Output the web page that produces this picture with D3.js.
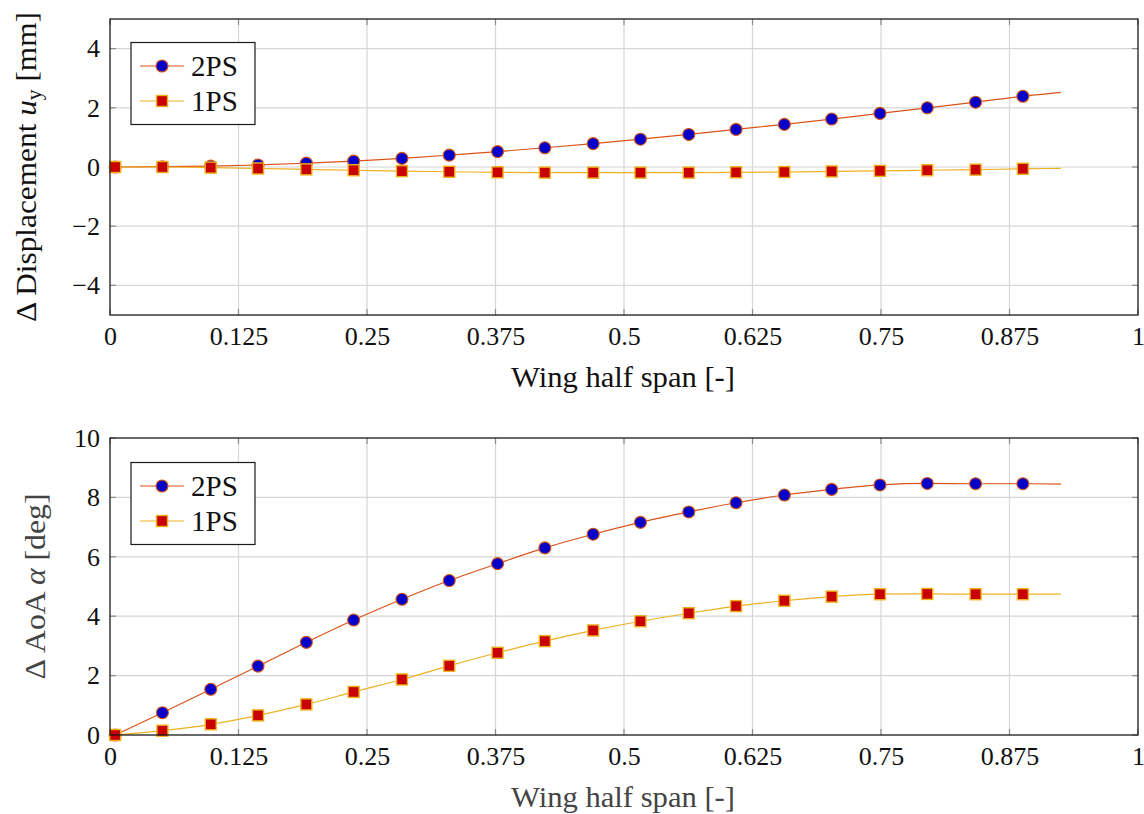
<!DOCTYPE html>
<html lang="en">
<head>
<meta charset="utf-8">
<title>Wing half span deltas</title>
<script src="https://cdnjs.cloudflare.com/ajax/libs/d3/7.8.5/d3.min.js"></script>
<style>
  body { margin: 0; background: #fff; }
  svg text { font-family: "Liberation Serif", "DejaVu Serif", serif; fill: #111; }
  .grid line { stroke: #d6d6d6; stroke-width: 1.2px; }
  .tickmark { stroke: #8c8c8c; stroke-width: 1.2px; }
  .frame { fill: none; stroke: #1a1a1a; stroke-width: 1.3px; }
  .tick text { font-size: 26px; }
  .label { font-size: 29px; }
  .legend text { font-size: 29px; }
</style>
</head>
<body>
<div id="chart"></div>
<script>
// spanwise stations (last one is the line end, no marker)
var span = [0.005, 0.051, 0.098, 0.144, 0.191, 0.237, 0.284, 0.330, 0.377, 0.423,
            0.470, 0.516, 0.563, 0.609, 0.656, 0.702, 0.749, 0.795, 0.842, 0.888, 0.925];

var dispTwo = [0, 0.01, 0.03, 0.07, 0.13, 0.20, 0.29, 0.40, 0.52, 0.65,
               0.79, 0.94, 1.10, 1.27, 1.44, 1.62, 1.81, 2.00, 2.19, 2.39, 2.52];
var dispOne = [0, 0, -0.02, -0.05, -0.08, -0.11, -0.14, -0.16, -0.18, -0.19,
               -0.19, -0.19, -0.19, -0.18, -0.17, -0.15, -0.13, -0.11, -0.09, -0.06, -0.045];

var aoaTwo = [0, 0.75, 1.54, 2.32, 3.12, 3.87, 4.57, 5.20, 5.77, 6.30,
              6.76, 7.16, 7.51, 7.82, 8.08, 8.27, 8.42, 8.47, 8.46, 8.46, 8.45];
var aoaOne = [0, 0.145, 0.36, 0.66, 1.03, 1.45, 1.87, 2.33, 2.77, 3.16,
              3.52, 3.83, 4.10, 4.34, 4.52, 4.66, 4.74, 4.75, 4.74, 4.74, 4.74];

var seriesNames = ["2PS", "1PS"];
var xTicks = [0, 0.125, 0.25, 0.375, 0.5, 0.625, 0.75, 0.875, 1];
var xTickLabels = ["0", "0.125", "0.25", "0.375", "0.5", "0.625", "0.75", "0.875", "1"];
var dispTicks = [-4, -2, 0, 2, 4];
var aoaTicks = [0, 2, 4, 6, 8, 10];

var W = 1144, H = 814;
var svg = d3.select("#chart").append("svg")
    .attr("width", W)
    .attr("height", H);

var x = d3.scaleLinear().domain([0, 1]).range([110, 1138]);

var styles = [
    {line: "#d95319", fill: "#0000c8", stroke: "#d95319", shape: "circle"},
    {line: "#edb120", fill: "#c80000", stroke: "#edb120", shape: "square"}
];

function marker(sel, st) {
    if (st.shape == "circle") {
        sel.append("circle").attr("r", 6)
            .attr("fill", st.fill).attr("stroke", st.stroke).attr("stroke-width", 1.1);
    } else {
        sel.append("rect").attr("x", -5.5).attr("y", -5.5).attr("width", 11).attr("height", 11)
            .attr("fill", st.fill).attr("stroke", st.stroke).attr("stroke-width", 1.4);
    }
}

function panel(opt) {
    var g = svg.append("g");
    var y = d3.scaleLinear().domain(opt.domain).range([opt.bottom, opt.top]);
    var x0 = x.range()[0], x1 = x.range()[1];

    // grid
    var grid = g.append("g").attr("class", "grid");
    grid.selectAll(".gx").data(xTicks.slice(1, -1)).enter().append("line")
        .attr("x1", d => x(d)).attr("x2", d => x(d))
        .attr("y1", opt.top).attr("y2", opt.bottom);
    grid.selectAll(".gy").data(opt.ticks.filter(d => d > opt.domain[0] && d < opt.domain[1]))
        .enter().append("line")
        .attr("x1", x0).attr("x2", x1)
        .attr("y1", d => y(d)).attr("y2", d => y(d));

    // inward tick marks on all four sides
    var tm = g.append("g");
    xTicks.forEach(function(d) {
        tm.append("line").attr("class", "tickmark")
            .attr("x1", x(d)).attr("x2", x(d)).attr("y1", opt.bottom).attr("y2", opt.bottom - 6);
        tm.append("line").attr("class", "tickmark")
            .attr("x1", x(d)).attr("x2", x(d)).attr("y1", opt.top).attr("y2", opt.top + 6);
    });
    opt.ticks.forEach(function(d) {
        tm.append("line").attr("class", "tickmark")
            .attr("x1", x0).attr("x2", x0 + 6).attr("y1", y(d)).attr("y2", y(d));
        tm.append("line").attr("class", "tickmark")
            .attr("x1", x1).attr("x2", x1 - 6).attr("y1", y(d)).attr("y2", y(d));
    });

    // axes (labels only)
    var ax = g.append("g")
        .attr("transform", "translate(0," + opt.bottom + ")")
        .call(d3.axisBottom(x).tickValues(xTicks)
            .tickFormat((d, i) => xTickLabels[i]).tickSize(0).tickPadding(12));
    var ay = g.append("g")
        .attr("transform", "translate(" + x0 + ",0)")
        .call(d3.axisLeft(y).tickValues(opt.ticks).tickFormat(d3.format("d"))
            .tickSize(0).tickPadding(10));
    [ax, ay].forEach(function(a) {
        a.select(".domain").remove();
        a.attr("font-family", null).attr("font-size", null);
        a.selectAll("text").attr("fill", "#111");
    });

    // series
    var line = d3.line()
        .x((d, i) => x(span[i]))
        .y(d => y(d))
        .curve(d3.curveMonotoneX);

    opt.series.forEach(function(vals, k) {
        var st = styles[k];
        g.append("path").datum(vals)
            .attr("d", line)
            .attr("fill", "none")
            .attr("stroke", st.line)
            .attr("stroke-width", 1.2);
    });
    opt.series.forEach(function(vals, k) {
        var st = styles[k];
        g.append("g").selectAll("g").data(vals.slice(0, -1)).enter().append("g")
            .attr("transform", (d, i) => "translate(" + x(span[i]) + "," + y(d) + ")")
            .each(function() { marker(d3.select(this), st); });
    });

    g.append("rect").attr("class", "frame")
        .attr("x", x0).attr("y", opt.top)
        .attr("width", x1 - x0).attr("height", opt.bottom - opt.top);

    // legend
    var lg = g.append("g").attr("class", "legend")
        .attr("transform", "translate(131," + opt.legendTop + ")");
    lg.append("rect").attr("width", 124).attr("height", 82)
        .attr("fill", "#fff").attr("stroke", "#1a1a1a").attr("stroke-width", 1.2);
    seriesNames.forEach(function(name, k) {
        var st = styles[k];
        var row = lg.append("g").attr("transform", "translate(0," + (23.5 + k * 35) + ")");
        row.append("line").attr("x1", 9).attr("x2", 53)
            .attr("stroke", st.line).attr("stroke-width", 1.2);
        marker(row.append("g").attr("transform", "translate(31,0)"), st);
        row.append("text").attr("x", 60).attr("y", 10).text(name);
    });

    // axis labels
    g.append("text").attr("class", "label")
        .attr("x", 623).attr("y", opt.bottom + 72)
        .attr("text-anchor", "middle")
        .attr("textLength", 224)
        .attr("lengthAdjust", "spacingAndGlyphs")
        .style("fill", opt.labelColor)
        .text("Wing half span [-]");

    var yl = g.append("text").attr("class", "label")
        .attr("transform", "translate(" + opt.yLabelX + "," + (opt.top + opt.bottom) / 2 + ") rotate(-90)")
        .attr("text-anchor", "middle")
        .attr("textLength", opt.yLabelLen)
        .attr("lengthAdjust", "spacingAndGlyphs")
        .style("fill", opt.labelColor);
    opt.yLabel(yl);
}

panel({
    top: 19, bottom: 315, domain: [-5, 5], ticks: dispTicks,
    series: [dispTwo, dispOne], legendTop: 42.5,
    labelColor: "#111", yLabelX: 36, yLabelLen: 310,
    yLabel: function(t) {
        t.append("tspan").text("\u0394 Displacement ");
        t.append("tspan").style("font-style", "italic").text("u");
        t.append("tspan").attr("dy", 5).style("font-size", "20px").text("y");
        t.append("tspan").attr("dy", -5).text(" [mm]");
    }
});

panel({
    top: 438, bottom: 735, domain: [0, 10], ticks: aoaTicks,
    series: [aoaTwo, aoaOne], legendTop: 462.5,
    labelColor: "#444", yLabelX: 45, yLabelLen: 186,
    yLabel: function(t) {
        t.append("tspan").text("\u0394 AoA ");
        t.append("tspan").style("font-style", "italic").text("\u03b1");
        t.append("tspan").text(" [deg]");
    }
});
</script>
</body>
</html>
